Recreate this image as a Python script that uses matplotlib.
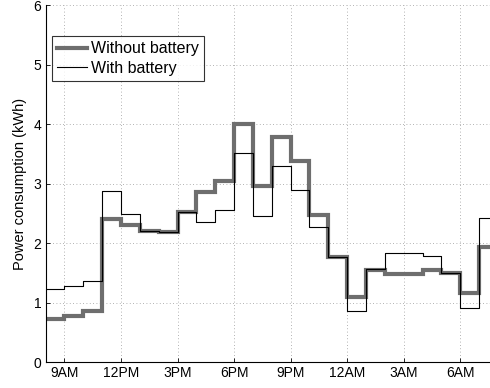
import matplotlib
matplotlib.use("Agg")
import matplotlib.pyplot as plt
import numpy as np

plt.rcParams['font.family'] = ['Liberation Sans', 'DejaVu Sans']

# hours after 8AM
hours = list(range(24))
without_battery = [0.73, 0.78, 0.86, 2.40, 2.30, 2.20, 2.19, 2.53, 2.86, 3.05,
                   4.00, 2.96, 3.79, 3.38, 2.47, 1.76, 1.10, 1.55, 1.48, 1.48,
                   1.54, 1.50, 1.16, 1.93]
with_battery = [1.23, 1.28, 1.36, 2.88, 2.49, 2.21, 2.19, 2.53, 2.36, 2.55,
                3.51, 2.46, 3.30, 2.89, 2.28, 1.76, 0.85, 1.57, 1.83, 1.83,
                1.78, 1.49, 0.91, 2.42]
tick_pos = [1, 4, 7, 10, 13, 16, 19, 22]
tick_labels = ['9AM', '12PM', '3PM', '6PM', '9PM', '12AM', '3AM', '6AM']

fig = plt.figure(figsize=(4.9, 3.88), dpi=100)
ax = fig.add_axes([0.093, 0.067, 0.907, 0.919])

x = hours + [hours[-1] + 1]
y1 = without_battery + [without_battery[-1]]
y2 = with_battery + [with_battery[-1]]
ax.step(x, y1, where='post', color='#6e6e6e', lw=3.0, label='Without battery',
        solid_joinstyle='miter')
ax.step(x, y2, where='post', color='black', lw=0.8, label='With battery')

ax.set_xlim(0, 23.58)
ax.set_ylim(0, 6)
ax.set_xticks(tick_pos)
ax.set_xticklabels(tick_labels)
ax.set_yticks([0, 1, 2, 3, 4, 5, 6])
ax.tick_params(direction='in', length=3, labelsize=10, width=0.6, pad=3)
ax.grid(True, linestyle=(0, (1, 3)), color='#999999', linewidth=0.6)
ax.spines['top'].set_visible(False)
ax.spines['right'].set_visible(False)
for s in ('left', 'bottom'):
    ax.spines[s].set_linewidth(0.8)
ax.set_ylabel('Power consumption (kWh)', fontsize=10.5, labelpad=5)

leg = ax.legend(loc='upper left', bbox_to_anchor=(0.0135, 0.914), fontsize=11.5,
                frameon=True, fancybox=False, edgecolor='black',
                handlelength=1.9, handletextpad=0.25, borderpad=0.32,
                labelspacing=0.3, borderaxespad=0)
leg.get_frame().set_linewidth(0.8)

fig.savefig('out.png', dpi=100)
